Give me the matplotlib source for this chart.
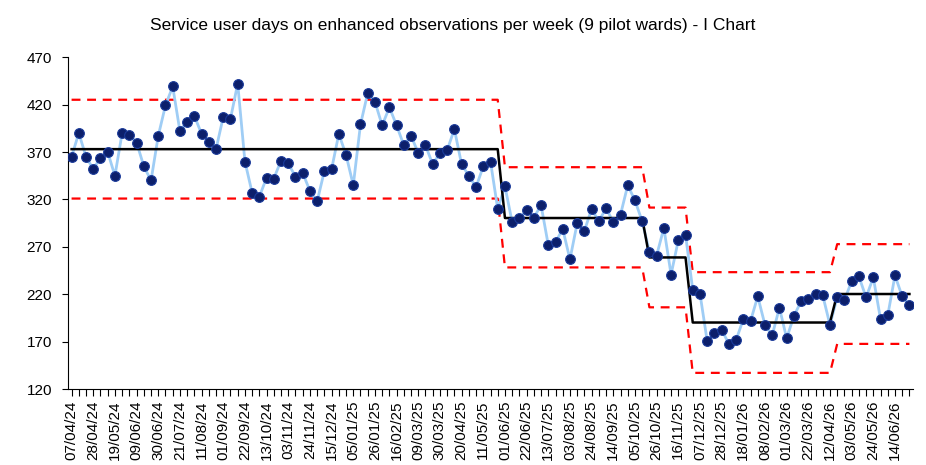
import numpy as np
import pandas as pd
import matplotlib
matplotlib.use('Agg')
import matplotlib.pyplot as plt

plt.rcParams['font.family'] = ['Liberation Sans', 'DejaVu Sans']

# weekly values, starting week 07/04/24
start_date = '2024-04-07'
values = [
    365, 390, 365, 352, 364, 370, 345, 390, 388, 380,
    355, 340, 387, 419, 439, 392, 402, 408, 389, 381,
    373, 407, 405, 442, 360, 327, 323, 343, 342, 361,
    358, 344, 348, 329, 318, 350, 352, 389, 367, 335,
    399, 432, 423, 398, 417, 398, 377, 387, 369, 377,
    357, 369, 372, 394, 357, 345, 333, 355, 360, 310,
    334, 296, 300, 309, 301, 314, 272, 275, 289, 257,
    295, 287, 310, 297, 311, 296, 304, 335, 319, 297,
    265, 261, 290, 241, 277, 283, 225, 221, 171, 179,
    183, 168, 172, 194, 192, 218, 188, 177, 206, 174,
    197, 213, 215, 221, 219, 188, 217, 214, 234, 239,
    217, 238, 194, 198, 240, 218, 209,
]

# control limits per phase
seg_lengths = [60, 20, 6, 20, 11]
seg_mean = [373, 300.5, 259, 190.5, 220.5]
seg_ucl = [425, 354, 311.5, 243.5, 273]
seg_lcl = [321, 248.5, 206.5, 137.5, 168]

title = 'Service user days on enhanced observations per week (9 pilot wards) - I Chart'

n = len(values)
x = np.arange(n)
dates = pd.date_range(start_date, periods=n, freq='7D')
labels = [d.strftime('%d/%m/%y') for d in dates]

mean_line = np.repeat(seg_mean, seg_lengths)
ucl_line = np.repeat(seg_ucl, seg_lengths)
lcl_line = np.repeat(seg_lcl, seg_lengths)

fig = plt.figure(figsize=(9.26, 4.65), dpi=100)
ax = fig.add_axes([0.0734, 0.1624, 0.9126, 0.715])

ax.plot(x, values, color='#9fcdf5', lw=2, zorder=2)
ax.plot(x, values, 'o', ms=7, color='#0c1f6b', mec='#1a3a9a', mew=0.8, zorder=4)
ax.plot(x, mean_line, color='black', lw=1.8, zorder=3)
ax.plot(x, ucl_line, color='#ff0000', lw=1.6, ls=(0, (4, 3)), zorder=1)
ax.plot(x, lcl_line, color='#ff0000', lw=1.6, ls=(0, (4, 3)), zorder=1)

ax.set_xlim(-0.5, n - 0.5)
ax.set_ylim(120, 470)
ax.set_yticks(np.arange(120, 471, 50))

ax.set_xticks(x[::3])
ax.set_xticklabels(labels[::3], rotation=90)
ax.set_xticks(x, minor=True)
ax.tick_params(axis='both', which='both', direction='out', length=5, width=0.8,
               labelsize=11, colors='black')
ax.tick_params(axis='x', which='major', pad=3)
ax.tick_params(axis='y', which='major', length=4.5, pad=7)

for side in ['top', 'right']:
    ax.spines[side].set_visible(False)
for side in ['left', 'bottom']:
    ax.spines[side].set_linewidth(0.8)

fig.text(0.489, 0.946, title, ha='center', va='center', fontsize=12.5)

fig.savefig('out.png', dpi=100)
